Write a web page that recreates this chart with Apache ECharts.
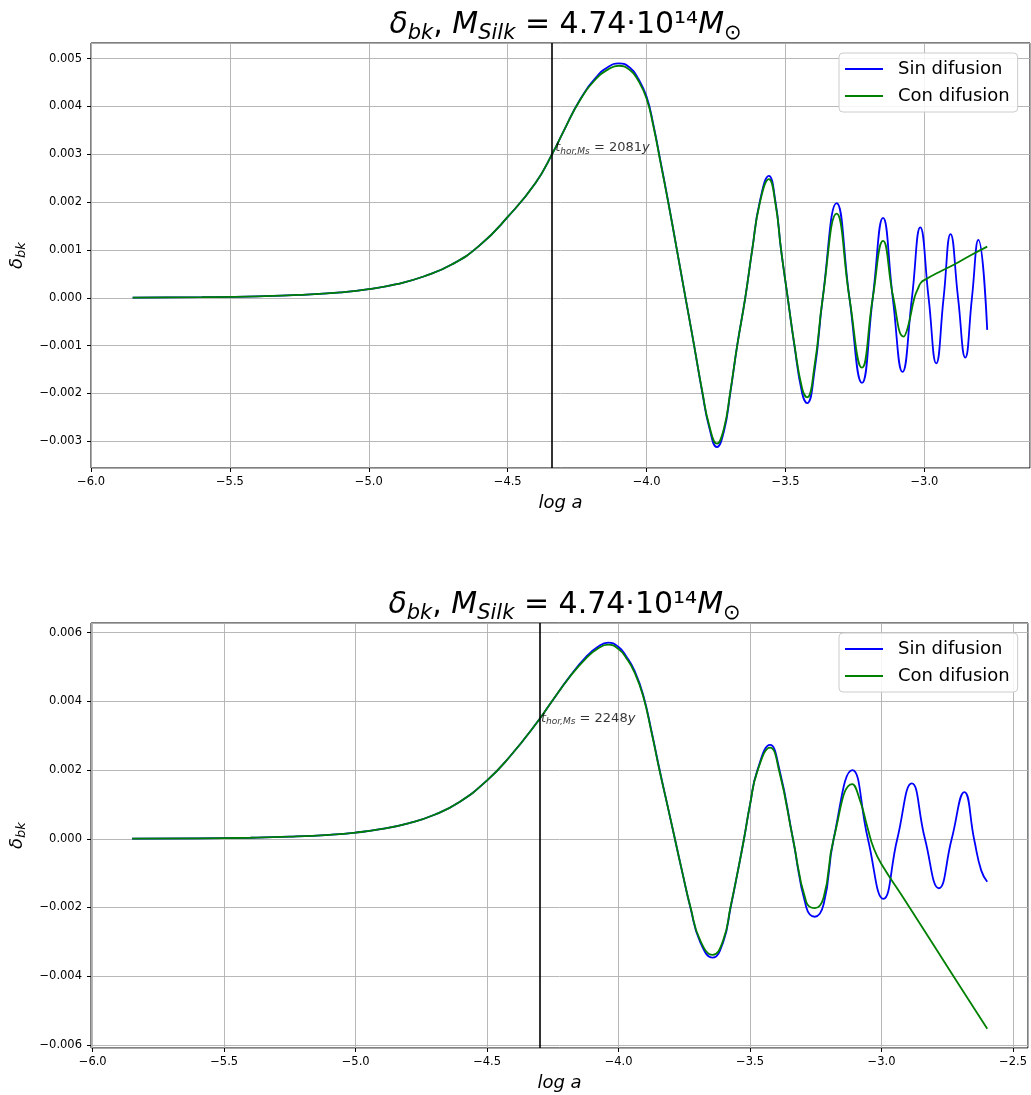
<!DOCTYPE html>
<html>
<head>
<meta charset="utf-8">
<script src="https://cdn.jsdelivr.net/npm/echarts@6/dist/echarts.min.js"></script>
<style>
  html, body { margin: 0; padding: 0; background: #ffffff; }
  #chart { width: 1031px; height: 1095px; }
</style>
</head>
<body>
<div id="chart"></div>
<script>
// ---- upper panel: delta_bk vs log a ----
const topSinLogA = [-5.85,-5.6,-5.4,-5.25,-5.1,-5.0,-4.9,-4.8,-4.7,-4.6,-4.5,-4.4,-4.336,-4.3,-4.24,-4.18,-4.14,-4.1,-4.06,-4.03,-4.0,-3.975,-3.95,-3.922,-3.891,-3.86,-3.829,-3.799,-3.775,-3.747,-3.722,-3.699,-3.674,-3.645,-3.62,-3.593,-3.56,-3.536,-3.516,-3.492,-3.468,-3.44,-3.4225,-3.395,-3.366,-3.316,-3.27,-3.225,-3.186,-3.149,-3.114,-3.079,-3.045,-3.015,-2.985,-2.9575,-2.931,-2.906,-2.879,-2.853,-2.829,-2.806,-2.774];
const topSinDelta = [0.000004,0.000012,0.00003,0.00006,0.000115,0.00018,0.000285,0.00045,0.0007,0.0011,0.00169,0.0024,0.00305,0.00347,0.00414,0.00462,0.00482,0.0049,0.00481,0.00458,0.0042,0.0036,0.00285,0.002,0.001,0.0,-0.001,-0.002,-0.0027,-0.00312,-0.0028,-0.002,-0.001,0.0,0.001,0.002,0.00255,0.002,0.001,0.0,-0.001,-0.002,-0.0022,-0.0015,0.0,0.00198,0.0,-0.00178,0.0,0.00167,0.0,-0.00155,0.0,0.00147,0.0,-0.00137,0.0,0.00133,0.0,-0.00125,0.0,0.00121,-0.00067];

const topConLogA = [-5.85,-5.6,-5.4,-5.25,-5.1,-5.0,-4.9,-4.8,-4.7,-4.6,-4.5,-4.4,-4.336,-4.3,-4.24,-4.18,-4.14,-4.1,-4.06,-4.03,-4.0,-3.975,-3.95,-3.922,-3.891,-3.86,-3.829,-3.799,-3.775,-3.747,-3.722,-3.699,-3.674,-3.645,-3.62,-3.593,-3.56,-3.536,-3.516,-3.492,-3.468,-3.44,-3.4225,-3.395,-3.366,-3.316,-3.27,-3.225,-3.186,-3.149,-3.112,-3.075,-3.06,-3.036,-3.024,-3.012,-2.994,-2.95,-2.891,-2.83,-2.774];
const topConDelta = [0.000004,0.000012,0.00003,0.00006,0.000115,0.00018,0.000285,0.00045,0.0007,0.0011,0.00169,0.0024,0.00305,0.00347,0.00413,0.00459,0.00477,0.00485,0.00476,0.00454,0.00416,0.00357,0.00283,0.00199,0.001,0.0,-0.001,-0.00198,-0.00266,-0.00305,-0.00274,-0.00197,-0.001,0.0,0.001,0.00197,0.00248,0.00196,0.001,0.0,-0.00098,-0.0019,-0.00208,-0.0014,0.0,0.00176,0.0,-0.00146,0.0,0.00119,0.0,-0.00081,-0.00062,0.0,0.00018,0.00032,0.00039,0.00053,0.0007,0.0009,0.00107];

// ---- lower panel ----
const botSinLogA = [-5.85,-5.6,-5.4,-5.25,-5.1,-5.0,-4.9,-4.8,-4.7,-4.605,-4.5,-4.415,-4.304,-4.25,-4.186,-4.123,-4.08,-4.04,-4.0,-3.97,-3.94,-3.907,-3.874,-3.844,-3.815,-3.786,-3.757,-3.727,-3.69,-3.642,-3.602,-3.574,-3.548,-3.523,-3.5,-3.472,-3.424,-3.388,-3.337,-3.286,-3.254,-3.22,-3.182,-3.111,-3.052,-2.993,-2.94,-2.885,-2.835,-2.782,-2.733,-2.685,-2.647,-2.621,-2.598];
const botSinDelta = [0.000004,0.000012,0.00003,0.00006,0.000115,0.00018,0.000285,0.00045,0.0007,0.00107,0.0017,0.00238,0.00345,0.00404,0.00472,0.0053,0.00558,0.00571,0.00558,0.0053,0.0049,0.0042,0.0031,0.002,0.001,0.0,-0.001,-0.002,-0.003,-0.00346,-0.003,-0.002,-0.001,0.0,0.001,0.002,0.00273,0.002,0.0,-0.002,-0.00227,-0.0019,0.0,0.002,0.0,-0.00175,0.0,0.00161,0.0,-0.00144,0.0,0.00136,-0.00005,-0.00092,-0.00125];

const botConLogA = [-5.85,-5.6,-5.4,-5.25,-5.1,-5.0,-4.9,-4.8,-4.7,-4.605,-4.5,-4.415,-4.304,-4.25,-4.186,-4.123,-4.08,-4.04,-4.0,-3.97,-3.94,-3.907,-3.874,-3.844,-3.815,-3.786,-3.757,-3.727,-3.69,-3.642,-3.602,-3.574,-3.548,-3.523,-3.5,-3.472,-3.424,-3.388,-3.337,-3.286,-3.254,-3.22,-3.182,-3.111,-3.08,-3.054,-3.029,-2.997,-2.927,-2.799,-2.672,-2.598];
const botConDelta = [0.000004,0.000012,0.00003,0.00006,0.000115,0.00018,0.000285,0.00045,0.0007,0.00107,0.0017,0.00238,0.00345,0.00404,0.00471,0.00526,0.00553,0.00565,0.00552,0.00525,0.00485,0.00416,0.00307,0.00198,0.001,0.0,-0.001,-0.00198,-0.00295,-0.00338,-0.00295,-0.00197,-0.001,0.0,0.001,0.00197,0.00265,0.00193,0.0,-0.00185,-0.00202,-0.0017,0.0,0.00159,0.00107,0.00034,-0.00029,-0.00078,-0.0016,-0.00313,-0.00465,-0.00553];

// horizon-crossing epoch (log a) and the annotation anchor height
const horizonLogA = [-4.336, -4.303];
const horizonLabelDelta = [0.00303, 0.00336];
const horizonYears = ['2081', '2248'];

// axis extents and tick steps
const xRanges = [[-6.0, -2.62], [-6.0065, -2.443]];
const yRanges = [[-0.003558, 0.005326], [-0.00609, 0.00628]];
const yTickStep = [0.001, 0.002];
const xTickStep = 0.5;

const seriesNames = ['Sin difusion', 'Con difusion'];
const titleText = '{i|δ}{s|bk}{n|, }{i|M}{s|Silk}{n| = 4.74·10¹⁴}{i|M}{o|⊙}';

const FONT = 'DejaVu Sans';
const BLUE = '#0000ff';
const GREEN = '#008000';
const GRIDC = '#b0b0b0';

const zip = (xs, ys) => xs.map((x, i) => [x, ys[i]]);
const fmtNum = (v, d) => {
  if (Math.abs(v) < 1e-12) return (0).toFixed(d);
  return (v < 0 ? '\u2212' : '') + Math.abs(v).toFixed(d);
};

const grids = [
  { left: 91, top: 43, width: 939, height: 425 },
  { left: 91, top: 623, width: 937, height: 425 }
];

const chart = echarts.init(document.getElementById('chart'), null, { renderer: 'canvas' });

function xAxis(k) {
  return {
    type: 'value', gridIndex: k, position: 'bottom',
    min: xRanges[k][0], max: xRanges[k][1],
    minInterval: xTickStep, maxInterval: xTickStep,
    name: 'log a', nameLocation: 'middle', nameGap: 26,
    nameTextStyle: { fontFamily: FONT, fontSize: 18, fontStyle: 'italic', color: '#000' },
    axisLine: { show: false, onZero: false },
    axisTick: { show: true, length: 4, lineStyle: { color: '#000', width: 1 } },
    axisLabel: {
      show: true, margin: 8, fontFamily: FONT, fontSize: 11.5, color: '#000',
      showMinLabel: k === 0, showMaxLabel: false,
      formatter: v => fmtNum(v, 1)
    },
    splitLine: { show: true, lineStyle: { color: GRIDC, width: 0.9 } }
  };
}

function yAxis(k) {
  return {
    type: 'value', gridIndex: k, position: 'left',
    min: yRanges[k][0], max: yRanges[k][1],
    minInterval: yTickStep[k], maxInterval: yTickStep[k],
    name: '{i|δ}{s|bk}', nameLocation: 'middle', nameGap: 62,
    nameTextStyle: {
      fontFamily: FONT, color: '#000',
      rich: {
        i: { fontFamily: FONT, fontSize: 18, fontStyle: 'italic', color: '#000' },
        s: { fontFamily: FONT, fontSize: 13, fontStyle: 'italic', color: '#000', padding: [9, 0, 0, 0] }
      }
    },
    axisLine: { show: false, onZero: false },
    axisTick: { show: true, length: 4, lineStyle: { color: '#000', width: 1 } },
    axisLabel: {
      show: true, margin: 9, fontFamily: FONT, fontSize: 11.5, color: '#000',
      showMinLabel: false, showMaxLabel: false,
      formatter: v => fmtNum(v, 3)
    },
    splitLine: { show: true, lineStyle: { color: GRIDC, width: 0.9 } }
  };
}

function title(k) {
  const g = grids[k];
  return {
    text: titleText,
    left: g.left + g.width / 2, textAlign: 'center',
    top: g.top - 41,
    textStyle: {
      fontFamily: FONT, fontSize: 30, fontWeight: 'normal', color: '#000',
      rich: {
        i: { fontFamily: FONT, fontSize: 30, fontStyle: 'italic', color: '#000' },
        n: { fontFamily: FONT, fontSize: 30, color: '#000' },
        s: { fontFamily: FONT, fontSize: 21, fontStyle: 'italic', color: '#000', padding: [16, 0, 0, 0] },
        o: { fontFamily: FONT, fontSize: 21, color: '#000', padding: [16, 0, 0, 0] }
      }
    }
  };
}

function legend(k) {
  return {
    data: seriesNames,
    orient: 'vertical',
    left: 839, top: grids[k].top + 10,
    icon: 'rect', itemWidth: 38, itemHeight: 2, itemGap: 7,
    backgroundColor: 'rgba(255,255,255,0.85)',
    borderColor: '#cccccc', borderWidth: 1, borderRadius: 4,
    padding: [6, 8, 6, 6],
    selectedMode: false,
    textStyle: { fontFamily: FONT, fontSize: 18, color: '#000', lineHeight: 20, padding: [0, 0, 0, 10] }
  };
}

function curve(name, k, xs, ys, color, withHorizon) {
  const s = {
    name, type: 'line', xAxisIndex: k, yAxisIndex: k,
    data: zip(xs, ys),
    smooth: 0.5, showSymbol: false, symbol: 'none',
    lineStyle: { color, width: 1.8 }, itemStyle: { color },
    animation: false, silent: true
  };
  if (withHorizon) {
    s.markLine = {
      silent: true, symbol: 'none', animation: false,
      label: { show: false },
      lineStyle: { color: '#000', width: 1.6, type: 'solid' },
      data: [{ xAxis: horizonLogA[k] }]
    };
  }
  return s;
}

function annotation(k) {
  return {
    type: 'scatter', xAxisIndex: k, yAxisIndex: k,
    data: [[horizonLogA[k], horizonLabelDelta[k]]],
    symbolSize: 0, silent: true, animation: false, z: 5,
    label: {
      show: true, position: [2, 3], align: 'left', verticalAlign: 'bottom',
      formatter: '{i|t}{s|hor,Ms}{n| = ' + horizonYears[k] + '}{i|y}',
      rich: {
        i: { fontFamily: FONT, fontSize: 13, fontStyle: 'italic', color: '#000' },
        n: { fontFamily: FONT, fontSize: 13, color: '#000' },
        s: { fontFamily: FONT, fontSize: 9, fontStyle: 'italic', color: '#000', padding: [7, 0, 0, 0] }
      }
    }
  };
}

chart.setOption({
  animation: false,
  backgroundColor: '#ffffff',
  title: [title(0), title(1)],
  legend: [legend(0), legend(1)],
  grid: grids.map(g => Object.assign({ show: true, borderColor: '#000', borderWidth: 1, backgroundColor: 'transparent', containLabel: false }, g)),
  xAxis: [xAxis(0), xAxis(1)],
  yAxis: [yAxis(0), yAxis(1)],
  series: [
    curve(seriesNames[0], 0, topSinLogA, topSinDelta, BLUE, true),
    curve(seriesNames[1], 0, topConLogA, topConDelta, GREEN, false),
    curve(seriesNames[0], 1, botSinLogA, botSinDelta, BLUE, true),
    curve(seriesNames[1], 1, botConLogA, botConDelta, GREEN, false),
    annotation(0),
    annotation(1)
  ]
});
</script>
</body>
</html>
